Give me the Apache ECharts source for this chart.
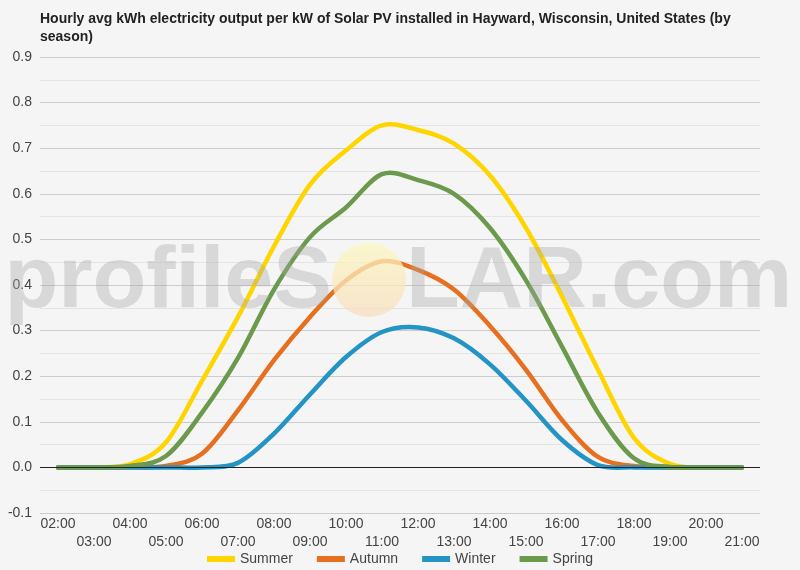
<!DOCTYPE html>
<html>
<head>
<meta charset="utf-8">
<script src="https://cdn.jsdelivr.net/npm/echarts@6/dist/echarts.min.js"></script>
<style>
html,body{margin:0;padding:0;background:#f5f5f5;}
#chart{width:800px;height:570px;}
</style>
</head>
<body>
<div id="chart"></div>
<script>
var hours = ['02:00','03:00','04:00','05:00','06:00','07:00','08:00','09:00','10:00','11:00','12:00','13:00','14:00','15:00','16:00','17:00','18:00','19:00','20:00','21:00'];
var summer = [0, 0, 0.007, 0.055, 0.19, 0.33, 0.485, 0.62, 0.695, 0.75, 0.74, 0.71, 0.64, 0.525, 0.375, 0.214, 0.065, 0.008, 0, 0];
var autumn = [0, 0, 0, 0.003, 0.03, 0.125, 0.235, 0.33, 0.41, 0.452, 0.433, 0.39, 0.31, 0.214, 0.104, 0.023, 0.003, 0, 0, 0];
var winter = [0, 0, 0, 0, 0, 0.01, 0.074, 0.16, 0.242, 0.297, 0.307, 0.283, 0.226, 0.146, 0.06, 0.005, 0, 0, 0, 0];
var spring = [0, 0, 0.003, 0.025, 0.12, 0.24, 0.39, 0.505, 0.57, 0.643, 0.63, 0.60, 0.525, 0.41, 0.265, 0.12, 0.02, 0.001, 0, 0];
var yTicks = {min: -0.1, max: 0.9, interval: 0.1};

var chart = echarts.init(document.getElementById('chart'));
var font = 'Liberation Sans, Arial, sans-serif';

// Smooth curve (cardinal spline) drawn through points located by the axes.
function mk(name, values, color) {
  return {
    name: name, type: 'custom', coordinateSystem: 'cartesian2d',
    data: values.map(function (v, i) { return [i, v]; }),
    encode: {x: 0, y: 1},
    itemStyle: {color: color},
    clip: true,
    renderItem: function (params, api) {
      if (params.dataIndex !== 0) return null;
      var pts = values.map(function (v, i) { return api.coord([i, v]); });
      var k = 1 / 6;
      var d = 'M' + pts[0][0] + ' ' + pts[0][1];
      for (var i = 0; i < pts.length - 1; i++) {
        var p0 = pts[Math.max(i - 1, 0)], p1 = pts[i], p2 = pts[i + 1], p3 = pts[Math.min(i + 2, pts.length - 1)];
        var c1x = p1[0] + (p2[0] - p0[0]) * k, c1y = p1[1] + (p2[1] - p0[1]) * k;
        var c2x = p2[0] - (p3[0] - p1[0]) * k, c2y = p2[1] - (p3[1] - p1[1]) * k;
        d += ' C' + c1x + ' ' + c1y + ' ' + c2x + ' ' + c2y + ' ' + p2[0] + ' ' + p2[1];
      }
      return {
        type: 'path', silent: true,
        shape: {pathData: d},
        style: {stroke: color, fill: null, lineWidth: 4.5, lineJoin: 'round', lineCap: 'round'}
      };
    }
  };
}
var series = [
  mk('Summer', summer, '#FFD500'),
  mk('Autumn', autumn, '#E6701F'),
  mk('Winter', winter, '#2394C4'),
  mk('Spring', spring, '#6B9A4C'),
  {
    name: 'zero', type: 'line', data: [], silent: true,
    markLine: {
      silent: true, symbol: 'none', label: {show: false},
      lineStyle: {color: '#222', width: 1, type: 'solid'},
      data: [{yAxis: 0}]
    },
    z: 1
  }
];
var wm = 'rgba(165,165,165,0.36)';
chart.setOption({
  backgroundColor: '#f5f5f5',
  animation: false,
  title: {
    text: 'Hourly avg kWh electricity output per kW of Solar PV installed in Hayward, Wisconsin, United States (by season)',
    left: 35, top: 5,
    textStyle: {fontFamily: font, fontSize: 14, fontWeight: 'bold', color: '#222', lineHeight: 18, width: 700, overflow: 'break'}
  },
  grid: {left: 40, right: 40, top: 57, bottom: 57, containLabel: false},
  legend: {
    bottom: -1, left: 'center', itemWidth: 28, itemHeight: 6, itemGap: 24,
    icon: 'rect',
    textStyle: {fontFamily: font, fontSize: 14, color: '#444'},
    data: ['Summer','Autumn','Winter','Spring']
  },
  xAxis: {
    type: 'category', data: hours, boundaryGap: true,
    axisLine: {show: false}, axisTick: {show: false},
    axisLabel: {
      interval: 0, margin: 2, fontFamily: font, fontSize: 14, color: '#444', lineHeight: 18,
      formatter: function (v, i) { return i % 2 === 1 ? '\n' + v : v; }
    },
    splitLine: {show: false}
  },
  yAxis: {
    type: 'value', min: yTicks.min, max: yTicks.max, interval: yTicks.interval,
    axisLine: {show: false}, axisTick: {show: false},
    axisLabel: {margin: 8, fontFamily: font, fontSize: 14, color: '#444',
      formatter: function (v) { return v.toFixed(1); }},
    splitLine: {lineStyle: {color: '#cccccc', width: 1}},
    minorTick: {show: false, splitNumber: 2},
    minorSplitLine: {show: true, lineStyle: {color: '#e4e4e4', width: 1}}
  },
  graphic: [
    {type: 'text', right: 800 - 332, top: 239, z: 100, silent: true,
      style: {text: 'profileS', font: 'bold 88px Liberation Sans, Arial, sans-serif', fill: wm}},
    {type: 'circle', z: 99, silent: true, shape: {cx: 369, cy: 280, r: 37},
      style: {fill: {type: 'linear', x: 0, y: 0, x2: 0, y2: 1, colorStops: [
        {offset: 0, color: 'rgba(252,247,190,0.75)'}, {offset: 1, color: 'rgba(248,222,190,0.75)'}]}}},
    {type: 'text', left: 406, top: 239, z: 100, silent: true,
      style: {text: 'LAR.com', font: 'bold 88px Liberation Sans, Arial, sans-serif', fill: wm}}
  ],
  series: series
});
</script>
</body>
</html>
